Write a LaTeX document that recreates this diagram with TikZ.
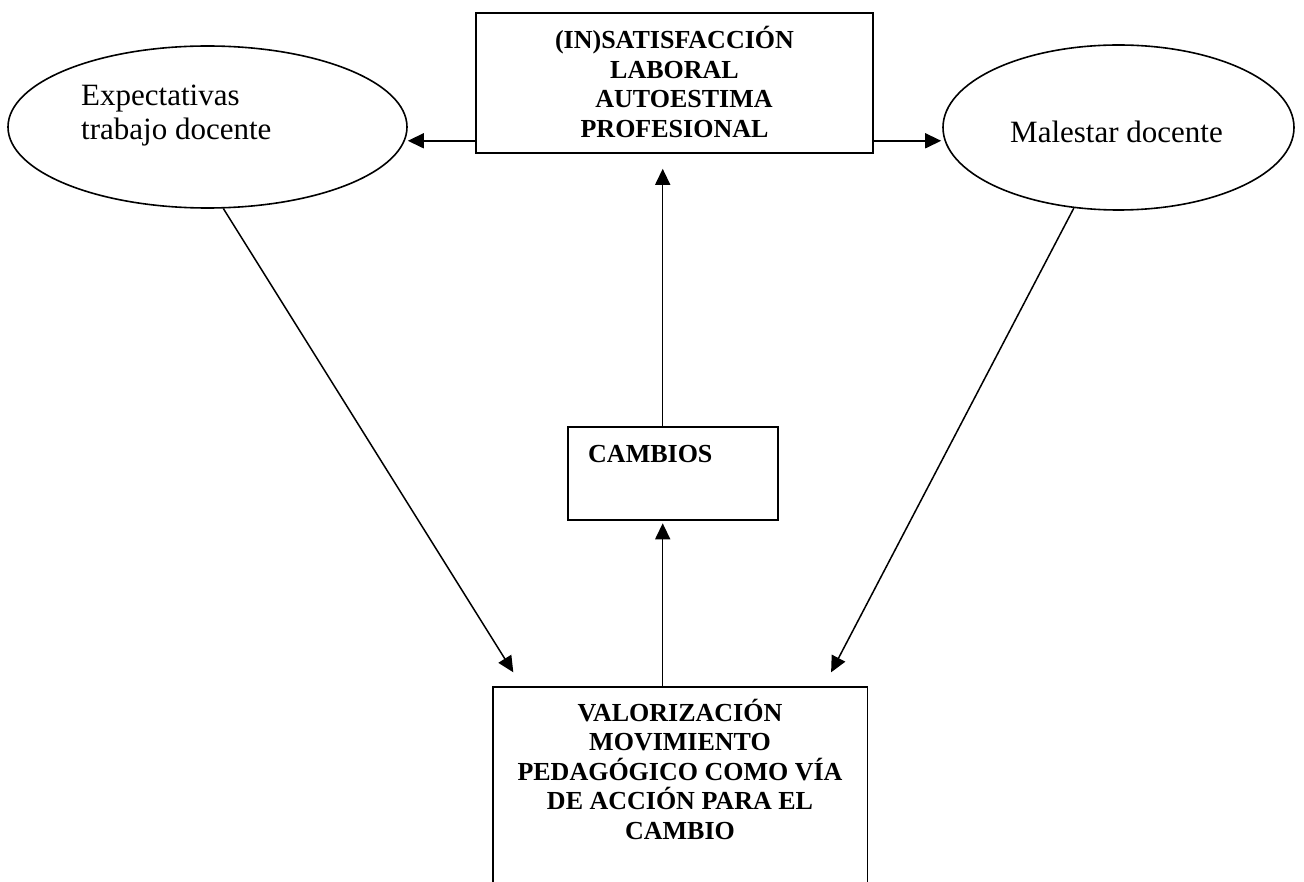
\documentclass[tikz,border=0pt]{standalone}
\usepackage{fontspec}
\setmainfont{Liberation Serif}
\usetikzlibrary{arrows.meta,shapes.geometric}
\begin{document}
\begin{tikzpicture}[x=1pt,y=-1pt,
  shapeline/.style={draw=black,line width=1.6pt},
  boxnode/.style={shapeline,rectangle,inner sep=0pt},
  ellnode/.style={shapeline,ellipse,inner sep=0pt},
  boldtxt/.style={inner sep=0pt,align=center,font=\fontsize{26}{29.6}\selectfont\bfseries},
  plaintxt/.style={inner sep=0pt,font=\fontsize{31}{35}\selectfont},
  conn/.style={line width=1.5pt,-{Triangle[length=16pt,width=15pt]}}
]
\useasboundingbox[fill=white] (0,0) rectangle (1304,882);

% shapes
\node[boxnode,minimum width=397pt,minimum height=140pt] (top) at (674.5,83) {};
\node[ellnode,minimum width=399pt,minimum height=162pt] (lell) at (207.5,127) {};
\node[ellnode,minimum width=351pt,minimum height=165pt] (rell) at (1118.5,127.5) {};
\node[boxnode,minimum width=210pt,minimum height=93pt] (cambios) at (673,473.5) {};
\node[inner sep=0pt,minimum width=374pt,minimum height=195.3pt,anchor=north west] (bot) at (493,686.7) {};
\draw[shapeline] (bot.south west) -- (bot.north west) -- (bot.north east) -- (bot.south east);

% texts (base anchor = baseline of the last line)
\node[boldtxt,anchor=base] (toptxt) at (674.5,137.5) {(IN)SATISFACCIÓN\\LABORAL\\\hspace*{19pt}AUTOESTIMA\\PROFESIONAL};
\node[plaintxt,anchor=base west] (exp1) at (81,105.7) {Expectativas};
\node[plaintxt,anchor=base west] (exp2) at (81,140) {trabajo docente};
\node[plaintxt,anchor=base west] (maltxt) at (1010,143) {Malestar docente};
\node[boldtxt,anchor=base west] (camtxt) at (588,462) {CAMBIOS};
\node[boldtxt,anchor=base] (bottxt) at (680,839.5) {VALORIZACIÓN\\MOVIMIENTO\\PEDAGÓGICO COMO VÍA\\DE ACCIÓN PARA EL\\CAMBIO};

% connectors
\coordinate (axis) at (662.7,0);
\coordinate (lstart) at ([yshift=13pt]top.south west);
\coordinate (rstart) at ([yshift=13pt]top.south east);
\draw[conn] (lstart) -- (lstart -| lell.east);
\draw[conn] (rstart) -- ([xshift=-1pt]rstart -| rell.west);
\draw[conn,shorten >=15pt] (cambios.north -| axis) -- (top.south -| axis);
\draw[conn,shorten >=2.5pt] (bot.north -| axis) -- (cambios.south -| axis);
\draw[conn] (lell.-79.4) -- ([xshift=20.3pt,yshift=14.4pt]bot.north west);
\draw[conn] (rell.-119.6) -- ([xshift=-36.3pt,yshift=14.4pt]bot.north east);
\end{tikzpicture}
\end{document}
